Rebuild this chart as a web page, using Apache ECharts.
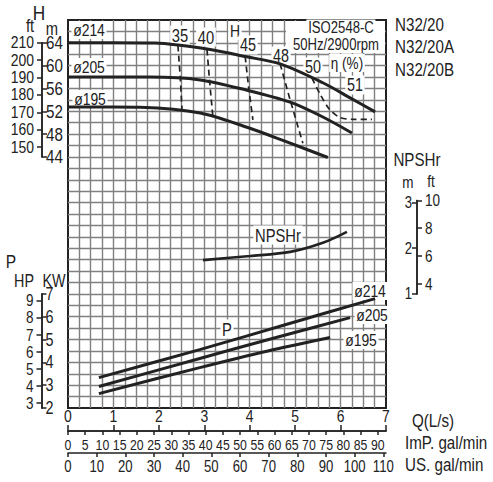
<!DOCTYPE html>
<html><head><meta charset="utf-8">
<script src="https://cdn.jsdelivr.net/npm/echarts@6/dist/echarts.min.js"></script>
<style>html,body{margin:0;padding:0;background:#fff}#c{width:493px;height:482px}</style>
</head><body><div id="c"></div>
<script>
// ---- Head curves (Q in L/s, H in m) ----
const qH214 = [0, 1.0, 1.92, 2.42, 3.06, 3.90, 4.67, 5.61, 6.20, 6.76];
const hH214 = [64.0, 64.0, 63.95, 63.6, 62.9, 61.6, 60.3, 57.0, 54.4, 51.9];
const qH205 = [0, 1.0, 1.80, 2.91, 3.94, 4.89, 5.61, 6.25];
const hH205 = [58.0, 58.0, 58.0, 57.5, 55.7, 53.6, 51.0, 48.2];
const qH195 = [0, 1.0, 1.58, 2.91, 3.94, 4.73, 5.72];
const hH195 = [52.75, 52.75, 52.7, 51.7, 49.2, 46.9, 43.9];
// ---- Iso-efficiency lines (Q, H) ----
const qE35 = [2.42, 2.47, 2.51], hE35 = [63.5, 58.0, 52.2];
const qE40 = [3.06, 3.12, 3.19], hE40 = [62.8, 57.0, 51.0];
const qE45 = [3.90, 3.98, 4.07], hE45 = [61.6, 56.0, 50.5];
const qE48 = [4.67, 4.89, 5.17], hE48 = [60.3, 54.0, 46.4];
const qE50 = [5.37, 5.55, 5.75, 5.99, 6.30, 6.69], hE50 = [57.8, 55.0, 52.4, 50.9, 50.6, 50.6];
// ---- NPSHr (Q, m) ----
const qN = [2.97, 4.01, 4.89, 5.61, 6.14];
const nN = [1.74, 1.83, 1.92, 2.12, 2.36];
// ---- Power (Q, kW) ----
const qP214 = [0.68, 2.9, 4.8, 6.76], pP214 = [3.33, 4.56, 5.66, 6.79];
const qP205 = [0.68, 2.9, 4.6, 6.21], pP205 = [2.94, 4.17, 5.10, 5.96];
const qP195 = [0.68, 2.9, 4.4, 5.77], pP195 = [2.63, 3.77, 4.50, 5.09];
// ---- tick labels ----
const impTicks = [0,5,10,15,20,25,30,35,40,45,50,55,60,65,70,75,80,85,90];
const usTicks = [0,10,20,30,40,50,60,70,80,90,100,110];
const hmTicks = [44,48,52,56,60,64];
const hftTicks = [150,160,170,180,190,200,210];
const kwTicks = [2,3,4,5,6,7];
const hpTicks = [3,4,5,6,7,8,9];
const nmTicks = [1,2,3];
const nftTicks = [4,6,8,10];

const M2FT = 3.28084, KW2HP = 1/0.7457, LS2IMP = 13.198, LS2US = 15.850;
const AXF = '"Liberation Sans",Helvetica,sans-serif';   // axis labels (condensed after render)
const GF = '"Liberation Sans",sans-serif';              // free texts (condensed via scaleX)
const NARROW = 0.82;
const INK = '#222';

const zip = (a, b) => a.map((v, i) => [v, b[i]]);
const chart = echarts.init(document.getElementById('c'), null, {renderer: 'svg'});

const GL = 68, GT = 20, GW = 318, GH = 388;
const yOf = (v, lo, hi) => GT + GH * (hi - v) / (hi - lo);

const lineAx = {show: true, onZero: false, lineStyle: {color: INK, width: 1.5}};
const tickSt = {color: INK, width: 1.5};
const lab = (o) => Object.assign({color: INK, fontFamily: AXF, showMinLabel: true, showMaxLabel: true, hideOverlap: false}, o);

const hTop = yOf(210 / M2FT, 0, 68), hBot = yOf(44, 0, 68);
const pTop = yOf(7, 2, 19), pBot = yOf(2, 2, 19);
const nTop = yOf(10 / M2FT, -1.5, 7), nBot = yOf(1, -1.5, 7);

const grids = [
  {left: GL, top: GT, width: GW, height: GH, show: true, borderColor: INK, borderWidth: 2, backgroundColor: 'transparent'},
  {left: 42, top: hTop, width: 20, height: hBot - hTop},
  {left: 41.5, top: pTop, width: 20, height: pBot - pTop},
  {left: 417, top: nTop, width: 20, height: nBot - nTop}
];

const xAxes = [
  {gridIndex: 0, type: 'value', min: 0, max: 7, interval: 1, position: 'bottom', offset: 23,
   axisLine: lineAx, axisTick: {inside: true, length: 6, lineStyle: tickSt},
   axisLabel: lab({inside: true, margin: 6, fontSize: 17}), splitLine: {show: false}},
  {gridIndex: 0, type: 'value', min: 0, max: 7 * LS2IMP, position: 'bottom', offset: 23,
   axisLine: lineAx, axisTick: {length: 4, lineStyle: tickSt, customValues: impTicks},
   axisLabel: lab({margin: 6, fontSize: 15, customValues: impTicks}), splitLine: {show: false}},
  {gridIndex: 0, type: 'value', min: 0, max: 7 * LS2US, position: 'bottom', offset: 45,
   axisLine: lineAx, axisTick: {length: 4, lineStyle: tickSt, customValues: usTicks},
   axisLabel: lab({margin: 5, fontSize: 16, customValues: usTicks}), splitLine: {show: false}},
  {gridIndex: 0, type: 'value', min: 0, max: 28, interval: 1, position: 'top',
   axisLine: {show: false}, axisTick: {show: false}, axisLabel: {show: false},
   splitLine: {show: true, showMinLine: false, showMaxLine: false, lineStyle: {color: '#808080', width: 1.4}}},
  {gridIndex: 1, type: 'value', show: false, min: 0, max: 1},
  {gridIndex: 2, type: 'value', show: false, min: 0, max: 1},
  {gridIndex: 3, type: 'value', show: false, min: 0, max: 1}
];

const yAxes = [
  {gridIndex: 0, type: 'value', min: 0, max: 34, interval: 1, position: 'right',
   axisLine: {show: false}, axisTick: {show: false}, axisLabel: {show: false},
   splitLine: {show: true, showMinLine: false, showMaxLine: false, lineStyle: {color: '#808080', width: 1.4}}},
  {gridIndex: 0, type: 'value', min: 0, max: 68, show: false},
  {gridIndex: 0, type: 'value', min: 2, max: 19, show: false},
  {gridIndex: 0, type: 'value', min: -1.5, max: 7, show: false},
  // H axis (m inside, ft outside)
  {gridIndex: 1, type: 'value', position: 'left', min: 44, max: 210 / M2FT, axisLine: lineAx,
   axisTick: {inside: true, length: 5, lineStyle: tickSt, customValues: hmTicks},
   axisLabel: lab({inside: true, margin: 4, fontSize: 18.5, customValues: hmTicks}), splitLine: {show: false}},
  {gridIndex: 1, type: 'value', position: 'left', min: 44 * M2FT, max: 210, axisLine: lineAx,
   axisTick: {length: 5, lineStyle: tickSt, customValues: hftTicks},
   axisLabel: lab({margin: 8, fontSize: 17, customValues: hftTicks}), splitLine: {show: false}},
  // Power axis (KW inside, HP outside)
  {gridIndex: 2, type: 'value', position: 'left', min: 2, max: 7, axisLine: lineAx,
   axisTick: {inside: true, length: 5, lineStyle: tickSt, customValues: kwTicks},
   axisLabel: lab({inside: true, margin: 4, fontSize: 17.5, customValues: kwTicks}), splitLine: {show: false}},
  {gridIndex: 2, type: 'value', position: 'left', min: 2 * KW2HP, max: 7 * KW2HP, axisLine: lineAx,
   axisTick: {length: 5, lineStyle: tickSt, customValues: hpTicks},
   axisLabel: lab({margin: 8, fontSize: 16.5, customValues: hpTicks}), splitLine: {show: false}},
  // NPSH axis (m outside-left, ft inside-right)
  {gridIndex: 3, type: 'value', position: 'left', min: 1, max: 10 / M2FT, axisLine: lineAx,
   axisTick: {length: 5, lineStyle: tickSt, customValues: nmTicks},
   axisLabel: lab({margin: 5, fontSize: 16, customValues: nmTicks}), splitLine: {show: false}},
  {gridIndex: 3, type: 'value', position: 'left', min: 1 * M2FT, max: 10, axisLine: lineAx,
   axisTick: {inside: true, length: 5, lineStyle: tickSt, customValues: nftTicks},
   axisLabel: lab({inside: true, margin: 8, fontSize: 16.5, customValues: nftTicks}), splitLine: {show: false}}
];

const solid = (name, q, v, yi, w) => ({
  name, type: 'line', xAxisIndex: 0, yAxisIndex: yi, data: zip(q, v), smooth: 0.3,
  showSymbol: false, symbol: 'none', silent: true, z: 5,
  lineStyle: {color: INK, width: w}
});
const dashed = (name, q, v) => ({
  name, type: 'line', xAxisIndex: 0, yAxisIndex: 1, data: zip(q, v), smooth: 0.3,
  showSymbol: false, symbol: 'none', silent: true, z: 4,
  lineStyle: {color: INK, width: 1.7, type: [6, 4]}
});

const series = [
  solid('H214', qH214, hH214, 1, 3), solid('H205', qH205, hH205, 1, 3), solid('H195', qH195, hH195, 1, 3),
  dashed('e35', qE35, hE35), dashed('e40', qE40, hE40), dashed('e45', qE45, hE45),
  dashed('e48', qE48, hE48), dashed('e50', qE50, hE50),
  solid('NPSHr', qN, nN, 3, 2.6),
  solid('P214', qP214, pP214, 2, 3), solid('P205', qP205, pP205, 2, 3), solid('P195', qP195, pP195, 2, 3)
];

const T = (x, y, text, size, align, bg) => ({
  type: 'text', x, y, z: 3, silent: true, scaleX: NARROW, scaleY: 1,
  style: Object.assign({text, fill: INK, font: size + 'px ' + GF, textAlign: align || 'center', textVerticalAlign: 'middle'},
    bg ? {backgroundColor: '#fff', padding: [1, 2, 0, 2]} : {})
});

const graphics = [
  // white panel behind the rating note (top-right of the plot)
  {type: 'rect', z: 2, silent: true, shape: {x: 286, y: 21, width: 99, height: 31}, style: {fill: '#fff'}},
  T(39, 13, 'H', 21), T(30, 25, 'ft', 18), T(52, 28, 'm', 18),
  T(11, 261, 'P', 19), T(24, 281, 'HP', 17.5), T(54, 281, 'KW', 17.5),
  T(89, 30, 'ø214', 17, 'center', true), T(89, 67, 'ø205', 17, 'center', true), T(90, 99, 'ø195', 17, 'center', true),
  T(180, 35, '35', 18, 'center', true), T(206, 37, '40', 18, 'center', true), T(235, 31, 'H', 17, 'center', true),
  T(248, 45, '45', 17.5, 'center', true), T(281, 56, '48', 17.5, 'center', true), T(313, 67, '50', 17.5, 'center', true),
  T(347, 63, 'η (%)', 16.5, 'center', true), T(355, 85, '51', 17.5, 'center', true),
  T(341, 28, 'ISO2548-C', 16, 'center', true), T(336, 44.5, '50Hz/2900rpm', 16, 'center', true),
  T(395, 25, 'N32/20', 18.5, 'left'), T(395, 47, 'N32/20A', 18.5, 'left'), T(395, 70, 'N32/20B', 18.5, 'left'),
  T(417, 160, 'NPSHr', 18.5), T(408, 182, 'm', 16.5), T(431, 181, 'ft', 16.5),
  T(278, 235, 'NPSHr', 18, 'center', true), T(227, 329, 'P', 18, 'center', true),
  T(370, 291, 'ø214', 17, 'center', true), T(372, 315, 'ø205', 17, 'center', true), T(361, 340, 'ø195', 17, 'center', true),
  T(412, 421, 'Q(L/s)', 18.5, 'left'), T(405, 443, 'ImP. gal/min', 18.5, 'left'), T(405, 465, 'US. gal/min', 18.5, 'left')
];

chart.setOption({
  animation: false,
  backgroundColor: '#fff',
  grid: grids, xAxis: xAxes, yAxis: yAxes, series, graphic: graphics
});

// Condense axis-label text to mimic a narrow typeface (no narrow font is installed).
function condense() {
  document.querySelectorAll('#c svg text').forEach(t => {
    if (t.dataset.cd) return;
    const fam = getComputedStyle(t).fontFamily || '';
    if (fam.indexOf('Helvetica') < 0) return;
    const L = t.getComputedTextLength();
    if (!L) return;
    t.setAttribute('textLength', (L * NARROW).toFixed(2));
    t.setAttribute('lengthAdjust', 'spacingAndGlyphs');
    t.dataset.cd = '1';
  });
}
condense();
chart.on('finished', condense);
setTimeout(condense, 30);
</script></body></html>
